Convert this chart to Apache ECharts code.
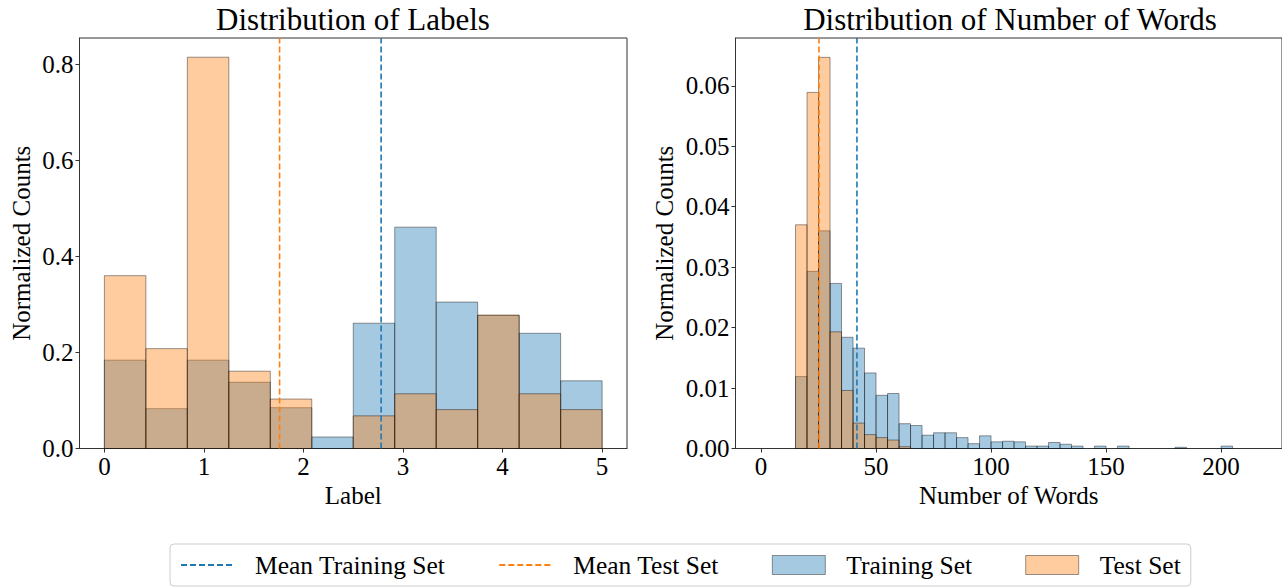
<!DOCTYPE html>
<html>
<head>
<meta charset="utf-8">
<script src="https://cdn.jsdelivr.net/npm/echarts@6/dist/echarts.min.js"></script>
<style>
  html, body { margin: 0; padding: 0; background: #fff; }
  #chart { width: 1282px; height: 587px; }
</style>
</head>
<body>
<div id="chart"></div>
<script>
// ---------------- data ----------------
const labelBinEdges = [0, 0.4167, 0.8333, 1.25, 1.6667, 2.0833, 2.5, 2.9167, 3.3333, 3.75, 4.1667, 4.5833, 5];
const labelTrain = [0.184, 0.083, 0.184, 0.138, 0.085, 0.024, 0.261, 0.461, 0.305, 0.277, 0.240, 0.141];
const labelTest  = [0.360, 0.208, 0.815, 0.161, 0.103, 0.000, 0.068, 0.114, 0.081, 0.278, 0.114, 0.081];
const labelMeanTrain = 2.78;
const labelMeanTest = 1.76;
const labelTicks = [0, 1, 2, 3, 4, 5];
const labelYTicks = [0, 0.2, 0.4, 0.6, 0.8];

const wordBinEdges = [15, 20, 25, 30, 35, 40, 45, 50, 55, 60, 65, 70, 75, 80, 85, 90, 95, 100, 105, 110,
  115, 120, 125, 130, 135, 140, 145, 150, 155, 160, 165, 170, 175, 180, 185, 190, 195, 200, 205];
const wordTrain = [0.0119, 0.0293, 0.0360, 0.0273, 0.0184, 0.0166, 0.0125, 0.0088, 0.0091, 0.0041,
  0.0038, 0.0022, 0.0026, 0.0026, 0.0018, 0.0008, 0.0021, 0.0011, 0.0012, 0.0011,
  0.0004, 0.0004, 0.0010, 0.0007, 0.0004, 0.0000, 0.0004, 0.0000, 0.0004, 0.0000,
  0.0000, 0.0000, 0.0000, 0.0002, 0.0000, 0.0000, 0.0000, 0.0004];
const wordTest = [0.0370, 0.0589, 0.0647, 0.0193, 0.0096, 0.0042, 0.0023, 0.0018, 0.0014, 0.0003];
const wordMeanTrain = 41.7;
const wordMeanTest = 25.2;
const wordTicks = [0, 50, 100, 150, 200];
const wordYTicks = [0, 0.01, 0.02, 0.03, 0.04, 0.05, 0.06];

// ---------------- helpers ----------------
const FONT = "'Liberation Serif', 'Times New Roman', serif";
const BLUE = '#1f77b4';
const ORANGE = '#ff7f0e';

function histData(edges, vals) {
  return vals.map((v, i) => [edges[i], edges[i + 1], v]);
}
function histSeries(name, color, edges, vals, gi) {
  return {
    name, type: 'custom', xAxisIndex: gi, yAxisIndex: gi, z: 2,
    itemStyle: { color: color, opacity: 0.4 },
    encode: { x: [0, 1], y: 2 },
    data: histData(edges, vals),
    renderItem: function (params, api) {
      const y = api.value(2);
      if (!(y > 0)) return null;
      const p0 = api.coord([api.value(0), y]);
      const p1 = api.coord([api.value(1), 0]);
      return {
        type: 'rect',
        shape: { x: p0[0], y: p0[1], width: p1[0] - p0[0], height: p1[1] - p0[1] },
        style: { fill: color, stroke: '#000', lineWidth: 1, opacity: 0.4 }
      };
    }
  };
}
function meanSeries(name, color, mean, top, gi) {
  return {
    name, type: 'line', xAxisIndex: gi, yAxisIndex: gi, z: 4,
    symbol: 'none', silent: true, animation: false,
    lineStyle: { color: color, width: 1.6, type: [6, 3] },
    itemStyle: { color: color },
    data: [[mean, 0], [mean, top]]
  };
}

const yMaxL = 0.855, yMaxR = 0.0679;

function xAxisCfg(gi, min, max, ticks, name, gap) {
  return {
    type: 'value', gridIndex: gi, min, max,
    name, nameLocation: 'middle', nameGap: gap,
    nameTextStyle: { fontFamily: FONT, fontSize: 25, color: '#000' },
    axisLine: { show: true, onZero: false, lineStyle: { color: '#333', width: 1 } },
    axisTick: { show: true, inside: false, length: 4, customValues: ticks, lineStyle: { color: '#333', width: 1 } },
    axisLabel: { customValues: ticks, margin: 5, fontFamily: FONT, fontSize: 25, color: '#000',
      formatter: v => String(v) },
    splitLine: { show: false }
  };
}
function yAxisCfg(gi, max, ticks, digits, gap) {
  return {
    type: 'value', gridIndex: gi, min: 0, max,
    name: 'Normalized Counts', nameLocation: 'middle', nameGap: gap, nameRotate: 90,
    nameTextStyle: { fontFamily: FONT, fontSize: 25, color: '#000' },
    axisLine: { show: true, onZero: false, lineStyle: { color: '#333', width: 1 } },
    axisTick: { show: true, inside: false, length: 4, customValues: ticks, lineStyle: { color: '#333', width: 1 } },
    axisLabel: { customValues: ticks, margin: 6, fontFamily: FONT, fontSize: 25, color: '#000',
      formatter: v => Number(v).toFixed(digits) },
    splitLine: { show: false }
  };
}

const chart = echarts.init(document.getElementById('chart'), null, { renderer: 'svg', width: 1282, height: 587 });
chart.setOption({
  backgroundColor: '#fff',
  animation: false,
  title: [
    { text: 'Distribution of Labels', left: 353, top: 4, textAlign: 'center', padding: 0,
      textStyle: { fontFamily: FONT, fontSize: 31, fontWeight: 'normal', color: '#000' } },
    { text: 'Distribution of Number of Words', left: 1010, top: 4, textAlign: 'center', padding: 0,
      textStyle: { fontFamily: FONT, fontSize: 31, fontWeight: 'normal', color: '#000' } }
  ],
  grid: [
    { left: 79.5, top: 38, width: 547.5, height: 410.5, show: true, borderColor: '#333', borderWidth: 1, containLabel: false },
    { left: 735.5, top: 38, width: 549, height: 410.5, show: true, borderColor: '#333', borderWidth: 1, containLabel: false }
  ],
  xAxis: [
    xAxisCfg(0, -0.25, 5.25, labelTicks, 'Label', 32),
    xAxisCfg(1, -11.1, 226.5, wordTicks, 'Number of Words', 32)
  ],
  yAxis: [
    yAxisCfg(0, yMaxL, labelYTicks, 1, 46),
    yAxisCfg(1, yMaxR, wordYTicks, 2, 59)
  ],
  legend: {
    left: 170, top: 544, padding: [8, 10],
    borderColor: '#cccccc', borderWidth: 1, borderRadius: 4, backgroundColor: '#fff',
    itemWidth: 53, itemHeight: 19, itemGap: 53,
    selectedMode: false,
    textStyle: { fontFamily: FONT, fontSize: 25.5, color: '#000', padding: [0, 0, 0, 16] },
    data: [
      { name: 'Mean Training Set', itemStyle: { opacity: 0 } },
      { name: 'Mean Test Set', itemStyle: { opacity: 0 } },
      { name: 'Training Set', icon: 'rect', itemStyle: { color: BLUE, borderColor: '#000', borderWidth: 1, opacity: 0.4 } },
      { name: 'Test Set', icon: 'rect', itemStyle: { color: ORANGE, borderColor: '#000', borderWidth: 1, opacity: 0.4 } }
    ]
  },
  series: [
    histSeries('Training Set', BLUE, labelBinEdges, labelTrain, 0),
    histSeries('Test Set', ORANGE, labelBinEdges, labelTest, 0),
    meanSeries('Mean Training Set', BLUE, labelMeanTrain, yMaxL, 0),
    meanSeries('Mean Test Set', ORANGE, labelMeanTest, yMaxL, 0),
    histSeries('Training Set', BLUE, wordBinEdges, wordTrain, 1),
    histSeries('Test Set', ORANGE, wordBinEdges, wordTest, 1),
    meanSeries('Mean Training Set', BLUE, wordMeanTrain, yMaxR, 1),
    meanSeries('Mean Test Set', ORANGE, wordMeanTest, yMaxR, 1)
  ]
});
</script>
</body>
</html>
